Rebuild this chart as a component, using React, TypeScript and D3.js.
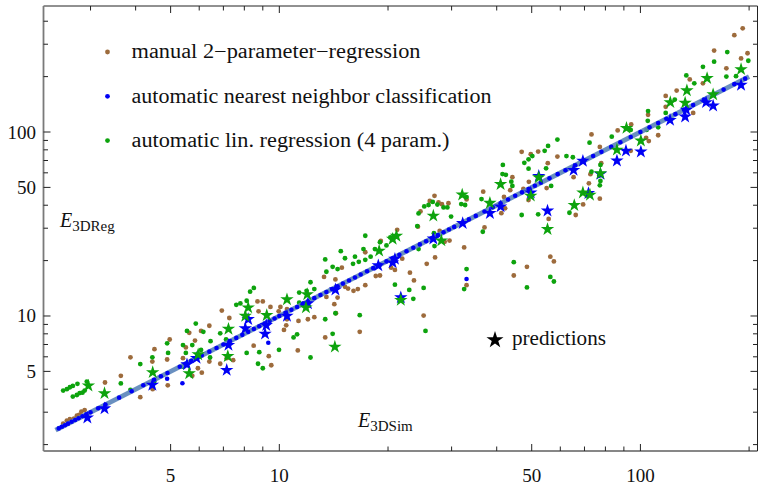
import React from "react";
import * as d3 from "d3";

// ---------- data (log-log axes) ----------
const manualPts: [number, number][] = [
  [2.52,2.6],[2.58,2.7],[2.63,2.75],[2.7,2.77],[2.75,2.87],[2.79,2.9],[2.83,3.02],[2.89,3.08],
  [3.29,4.35],[3.64,4.73],[3.87,5.96],[4.12,3.62],[4.45,5.65],[4.51,6.6],[4.46,4.0],[4.89,5.8],[4.97,7.45],[4.91,4.2],
  [5.63,8.1],[5.51,6.75],[5.84,7.35],[5.95,5.2],[5.74,4.73],[6.1,4.92],
  [6.93,10.7],[7.27,9.75],[6.4,8.85],[6.07,8.3],[5.41,5.9],[6.4,5.65],[6.86,5.5],[7.15,5.9],[7.45,5.75],
  [8.49,6.9],[9.35,6.05],[9.5,5.4],[8.7,12],[9.0,12],[9.45,11.2],[8.76,10.6],[9.96,10.6],[10.07,11.2],
  [10.5,9.6],[10.45,8.9],[10.3,8.4],[11.3,9.4],[12.0,9.6],[12.5,9.85],[13.4,7.65],[11.25,6.5],
  [13.3,16.3],[14.3,15.8],[13.5,12.7],[14.5,12.6],[14.2,11.6],[10.5,10.9],
  [14.9,18.3],[15.2,14.4],[15.5,14.1],[16.05,13.7],[16.5,14],[17.3,14.7],[17.3,22.2],[18.5,16.5],[19.0,16.6],
  [19.1,25.6],[21.2,29.4],[20.4,18.3],[20.9,17.8],[23.0,17.2],[23.6,15.6],[24.2,30.6],[24.6,37],[26.1,42.2],
  [26.9,45],[27.6,41.5],[28.2,40.5],[27.8,29],[27,20.8],[25.6,19.2],[29.6,25.7],[32.5,23.6],[33,14.7],
  [25.1,10.05],[16.7,8.2],[14.35,10.35],[21.9,20.5],[44.6,16.6],[48.5,18.5],[56.3,21],[57.6,19.8],
  [73.2,97],[77.2,83],[46.9,78],[49.7,75.7],[52.1,78.3],[58.9,73.5],[55.4,67.7],[44.2,56.8],[43.6,48.3],
  [41.9,44.4],[36.7,47.4],[42.2,38.5],[41.2,36.2],[47.4,49],[49,42.7],[55,49.6],[49.1,53.6],[65.3,56.8],
  [77.2,43.4],[69.4,40.4],[66.2,35.4],[72,52.6],[77.9,67.7],[37,30.3],[33,43],[29.4,41],[28.7,25.3],[55.7,33.7],
  [192,366],[182,336],[160,277],[198,268],[190,251],[173,222],[137,193],[149,184],[126,168],[117.5,157],
  [117.5,137],[140,127],[105,124],[94.3,110],[86.5,102],[103.7,93],[105.5,89.3],[112,96],[94,79],[72.7,59],
];

const linRegPts: [number, number][] = [
  [2.52,3.93],[2.58,4.0],[2.63,4.1],[2.68,4.17],[2.76,4.28],[2.68,3.65],[2.75,3.72],[2.8,3.81],[2.85,3.83],
  [2.89,3.93],[2.93,4.4],[3.64,4.3],[3.87,3.96],[4.12,5.48],[4.45,5.96],[4.51,4.43],[4.89,7.1],[4.92,6.3],
  [5.41,6.95],[5.51,6.3],[5.55,8.3],[5.74,6.95],[5.87,9.1],[5.41,5.3],
  [13.4,20.3],[14.5,18],[14.05,18.5],[13.5,17.4],[12.2,15.25],[12.5,14],[11.35,13.4],[8.5,14.2],[8.3,13.55],
  [8.12,12.1],[7.8,11.7],[7.6,11.5],[6.16,8.2],[6.45,7.3],[6.86,8.05],[7.12,7.45],[6.07,6.54],[6.43,5.95],
  [8.12,6.3],[8.8,6.36],[8.73,5.5],[9.0,5.2],[9.98,6.55],[10.95,7.65],[11.2,7.95],[12.2,5.95],[13.4,9.6],
  [14.05,8.0],[14.3,10.35],[11.9,13.7],[11.35,11.8],
  [14.8,22.5],[15.2,20.6],[16,19.2],[16.2,21],[16.6,19.7],[17.1,23.1],[17.3,27.3],[17.3,20.2],[17.9,21],
  [18.4,23.1],[19,25.2],[19.8,24.2],[20.3,26.7],[24.1,30.8],[24.3,36.1],[25.2,39.4],[25.9,40.1],[26.6,41.7],
  [27.4,40.3],[28.5,38.9],[29.2,38.9],[29.9,34.7],[31.9,40.6],[33,44.3],[32.7,40.1],[26.8,28.2],[27.3,27.5],
  [26.9,24],[33,18],[32.5,14],[25.1,14.2],[23.5,12.4],[22.9,13.85],[20.9,14.8],[16.7,10.1],[25.4,8.3],
  [24.3,23.1],[44.6,19.6],[48.5,14.3],[56.3,16.3],[57.6,15.4],
  [58.9,91],[55.5,84],[54.3,79],[50.2,74],[49,71],[47.7,68],[49,63.2],[41.6,66.2],[41.5,59.1],[42.4,58.5],
  [43.9,53.7],[44.2,50.9],[36.3,43.2],[46.9,35.4],[52.1,35.7],[54.8,63.5],[56.6,50.9],[62.4,74],[65,72.9],
  [72.3,87.5],[73.2,60.8],[77.5,54.2],[77.2,51.3],[63.6,36.4],[36.6,28.7],
  [174,272],[199,244],[160,241],[149,226],[173,200],[184,201],[134,203],[141,184],[124.5,150],[117.5,127],
  [105,130],[104.8,115],[104,102.6],[112,106],[94,102.6],[83.3,94.3],[76.9,57.9],[77.5,66.2],
];

const nnPts: [number, number][] = [
  [2.45,2.45],[2.5,2.5],[2.55,2.55],[2.6,2.6],[2.66,2.66],[2.72,2.72],[2.78,2.78],[2.85,2.85],[2.92,2.92],
  [3.0,3.0],[3.15,3.15],[3.3,3.3],[3.6,3.6],[3.9,3.9],[4.2,4.2],[4.5,4.5],[4.7,4.7],[4.9,4.9],[5.3,5.3],
  [5.5,5.5],[5.7,5.7],[5.9,5.9],[6.1,6.1],[6.4,6.4],[6.7,6.7],[7.0,7.0],[7.3,7.3],[7.6,7.6],[7.9,7.9],
  [8.2,8.2],[8.5,8.5],[8.8,8.8],[9.1,9.1],[9.4,9.4],[9.7,9.7],[10.0,10.0],[10.4,10.4],[10.8,10.8],
  [11.2,11.2],[11.6,11.6],[12.0,12.0],[12.5,12.5],[13.0,13.0],[13.5,13.5],[14.0,14.0],[14.5,14.5],
  [15.0,15.0],[15.6,15.6],[16.2,16.2],[16.8,16.8],[17.5,17.5],[18.2,18.2],[19.0,19.0],[19.8,19.8],
  [20.6,20.6],[21.5,21.5],[22.5,22.5],[23.5,23.5],[24.5,24.5],[25.5,25.5],[26.5,26.5],[27.5,27.5],
  [28.5,28.5],[29.5,29.5],[30.5,30.5],[32,32],[33.5,33.5],[35,35],[37,37],[39,39],[41,41],[43,43],
  [45,45],[47,47],[49,49],[51,51],[53,53],[56,56],[59,59],[62,62],[66,66],[70,70],[74,74],[78,78],
  [83,83],[88,88],[94,94],[100,100],[106,106],[112,112],[118,118],[125,125],[132,132],[140,140],
  [150,150],[160,160],[170,170],[182,182],[195,195],
  [4.89,4.56],[5.39,4.31],[9.32,7.16],[33,15.9],
];

const nnStars: [number, number][] = [
  [2.94,2.8],[3.28,3.14],[4.45,4.22],[5.55,5.45],[5.9,5.9],[7.15,5.08],[7.23,6.95],[8.05,8.55],[8.2,9.6],
  [9.13,8.0],[9.2,8.9],[10.5,10.0],[12,11.7],[14.3,13.9],[18.8,18.8],[20.6,19.5],[20.9,20.4],[21.7,12.6],
  [26.7,26.3],[32.2,31.9],[38.3,36.2],[41,39.3],[49.7,46.8],[52.3,57.6],[55.3,37.3],[65.3,62.1],[69.3,69.6],
  [71.8,46.5],[77.5,59.1],[86.1,69.8],[91.2,79],[100.3,78.1],[120.8,116],[133,121],[134,132],[152,145],
  [159,139],[190,180],
];

const linRegStars: [number, number][] = [
  [2.96,4.18],[3.28,3.8],[4.46,4.94],[5.63,4.87],[5.96,6.18],[7.2,6.04],[7.23,8.5],[8.2,11.1],[8.05,10],
  [9.23,10.1],[10.5,12.3],[11.95,13.1],[11.85,11.1],[14.25,6.8],[32.1,45.6],[26.7,35],[21.1,27.2],
  [20.6,26.2],[18.9,22.6],[28.1,25.7],[21.7,12.2],[38.3,41.1],[41,52],[52.3,56.6],[49.7,45],[55.3,29.6],
  [65.6,40],[69.3,46.8],[72.5,45.5],[77.5,59.6],[190,219],[153,196],[134.5,168],[133,144],[121,145],
  [159,160],[91.5,105],[100.3,89.7],[86.1,80],
];

const diagonal: [number, number][] = [[2.4, 2.4], [200, 200]];

const xMajorTicks = [5, 10, 50, 100];
const xMinorTicks = [3, 4, 6, 7, 8, 9, 20, 30, 40, 60, 70, 80, 90, 200];
const yMajorTicks = [5, 10, 50, 100];
const yMinorTicks = [2, 3, 4, 6, 7, 8, 9, 20, 30, 40, 60, 70, 80, 90, 200, 300, 400];

const legendLabels = [
  "manual 2\u2212parameter\u2212regression",
  "automatic nearest neighbor classification",
  "automatic lin. regression (4 param.)",
];
const legendWidths = [289, 360, 318];

// ---------- styling ----------
const BROWN = "#9d6b3c";
const BLUE = "#0000f5";
const GREEN = "#0da30d";
const FONT = "'Liberation Serif', 'Times New Roman', serif";
const legendColors = [BROWN, BLUE, GREEN];

const W = 760;
const H = 486;
const L = 43.5, R = 757.5, T = 6, B = 451;

const x = d3.scaleLog().domain([2.22, 211]).range([43.3, 757.5]);
const y = d3.scaleLog().domain([1.846, 484]).range([451, 6]);

const starPath = d3.symbol(d3.symbolStar, 56)() as string;
const bigStarPath = d3.symbol(d3.symbolStar, 90)() as string;
const linePath = d3
  .line<[number, number]>()
  .x((d) => x(d[0]))
  .y((d) => y(d[1]))(diagonal) as string;

export default function App() {
  return (
    <div style={{ position: "absolute", left: 0, top: 0 }}>
      <svg width={W} height={H} style={{ display: "block", background: "#fff" }} fontFamily={FONT}>
        {/* scatter dots */}
        {manualPts.map((d, i) => (
          <circle key={"m" + i} cx={x(d[0])} cy={y(d[1])} r={2.4} fill={BROWN} />
        ))}
        {linRegPts.map((d, i) => (
          <circle key={"g" + i} cx={x(d[0])} cy={y(d[1])} r={2.4} fill={GREEN} />
        ))}
        {/* diagonal reference line */}
        <path d={linePath} stroke="#5a84b9" strokeOpacity={0.9} strokeWidth={4.8} fill="none" strokeLinecap="butt" />
        {nnPts.map((d, i) => (
          <circle key={"b" + i} cx={x(d[0])} cy={y(d[1])} r={2.3} fill={BLUE} />
        ))}
        {nnStars.map((d, i) => (
          <path key={"bs" + i} d={starPath} transform={`translate(${x(d[0])},${y(d[1])})`} fill={BLUE} />
        ))}
        {linRegStars.map((d, i) => (
          <path key={"gs" + i} d={starPath} transform={`translate(${x(d[0])},${y(d[1])})`} fill={GREEN} />
        ))}

        {/* frame */}
        <line x1={L} x2={R} y1={T} y2={T} stroke="#222" strokeWidth={1} />
        <line x1={R} x2={R} y1={T} y2={B} stroke="#222" strokeWidth={1} />
        <line x1={L} x2={R} y1={B} y2={B} stroke="#111" strokeWidth={1.2} />
        <line x1={L} x2={L} y1={T} y2={B} stroke="#7a7a7a" strokeWidth={1.8} />

        {/* x ticks (bottom + top) */}
        {xMajorTicks.map((t) => (
          <g key={"xM" + t}>
            <line x1={x(t)} x2={x(t)} y1={B} y2={B - 7} stroke="#222" />
            <line x1={x(t)} x2={x(t)} y1={T} y2={T + 7} stroke="#222" />
            <text x={x(t)} y={482} textAnchor="middle" fontSize={19} fill="#111">{t}</text>
          </g>
        ))}
        {xMinorTicks.map((t) => (
          <g key={"xm" + t}>
            <line x1={x(t)} x2={x(t)} y1={B} y2={B - 4.5} stroke="#222" />
            <line x1={x(t)} x2={x(t)} y1={T} y2={T + 4.5} stroke="#222" />
          </g>
        ))}
        {/* y ticks (left + right) */}
        {yMajorTicks.map((t) => (
          <g key={"yM" + t}>
            <line x1={L} x2={L + 7} y1={y(t)} y2={y(t)} stroke="#222" />
            <line x1={R} x2={R - 7} y1={y(t)} y2={y(t)} stroke="#222" />
            <text x={36} y={y(t) + 6.5} textAnchor="end" fontSize={19} fill="#111">{t}</text>
          </g>
        ))}
        {yMinorTicks.map((t) => (
          <g key={"ym" + t}>
            <line x1={L} x2={L + 4.5} y1={y(t)} y2={y(t)} stroke="#222" />
            <line x1={R} x2={R - 4.5} y1={y(t)} y2={y(t)} stroke="#222" />
          </g>
        ))}

        {/* axis labels */}
        <text x={60} y={226.5} fill="#111">
          <tspan fontStyle="italic" fontSize={20}>E</tspan>
          <tspan fontSize={15} dy={4}>3DReg</tspan>
        </text>
        <text x={358} y={427} fill="#111">
          <tspan fontStyle="italic" fontSize={20}>E</tspan>
          <tspan fontSize={15} dy={4}>3DSim</tspan>
        </text>

        {/* legend */}
        {legendLabels.map((lab, i) => (
          <g key={"lg" + i}>
            <circle cx={107.5} cy={52 + i * 44.3} r={2.4} fill={legendColors[i]} />
            <text
              x={131.5}
              y={58.3 + i * 44.3}
              fontSize={20}
              fill="#111"
              textLength={legendWidths[i]}
              lengthAdjust="spacingAndGlyphs"
            >
              {lab}
            </text>
          </g>
        ))}
        <path d={bigStarPath} transform="translate(495,340)" fill="#000" />
        <text x={512} y={345} fontSize={20} fill="#111" textLength={94} lengthAdjust="spacingAndGlyphs">
          predictions
        </text>
      </svg>
    </div>
  );
}
